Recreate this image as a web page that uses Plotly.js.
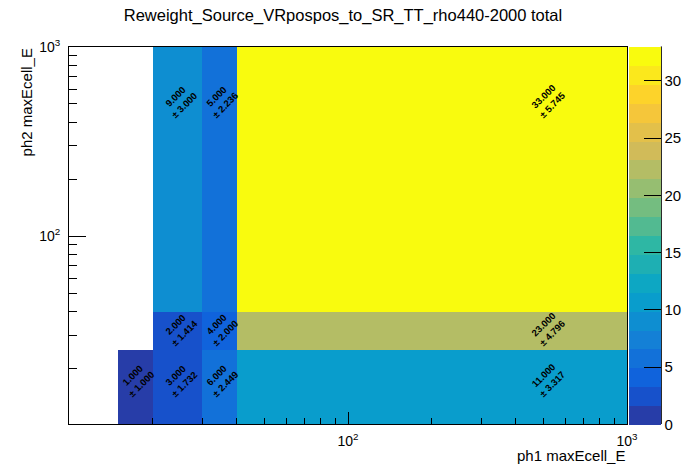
<!DOCTYPE html>
<html>
<head>
<meta charset="utf-8">
<script src="https://cdn.plot.ly/plotly-3.0.1.min.js"></script>
<style>html,body{margin:0;padding:0;background:#fff;}#plot{width:696px;height:472px;}</style>
</head>
<body>
<div id="plot"></div>
<script>
// ---- data ----
const chartTitle = "Reweight_Source_VRpospos_to_SR_TT_rho440-2000 total";
const xTitle = "ph1 maxEcell_E";
const yTitle = "ph2 maxEcell_E";
const xEdges = [10, 15, 20, 30, 40, 1000];
const yEdges = [10, 25, 40, 1000];
const counts = [
  [null, 1, 3, 6, 11],
  [null, null, 2, 4, 23],
  [null, null, 9, 5, 33]
];
const errors = [
  [null, 1.000, 1.732, 2.449, 3.317],
  [null, null, 1.414, 2.000, 4.796],
  [null, null, 3.000, 2.236, 5.745]
];
const majorTickVals = [100, 1000];
const majorTickText = ["10<sup>2</sup>", "10<sup>3</sup>"];
const minorTickVals = [20, 30, 40, 50, 60, 70, 80, 90, 200, 300, 400, 500, 600, 700, 800, 900];
const zTickVals = [0, 5, 10, 15, 20, 25, 30];
const zMin = 0, zMax = 33, nLevels = 20;

// ---- ROOT kBird palette ----
const stops = [0.0000, 0.1250, 0.2500, 0.3750, 0.5000, 0.6250, 0.7500, 0.8750, 1.0000];
const red   = [0.2082, 0.0592, 0.0780, 0.0232, 0.1802, 0.5301, 0.8186, 0.9956, 0.9764];
const green = [0.1664, 0.3599, 0.5041, 0.6419, 0.7178, 0.7492, 0.7328, 0.7862, 0.9832];
const blue  = [0.5293, 0.8684, 0.8385, 0.7914, 0.6425, 0.4662, 0.3499, 0.1968, 0.0539];
function bird(f) {
  let k = 0;
  while (k < stops.length - 2 && f > stops[k + 1]) k++;
  const t = (f - stops[k]) / (stops[k + 1] - stops[k]);
  const c = arr => Math.round(255 * (arr[k] + t * (arr[k + 1] - arr[k])));
  return `rgb(${c(red)},${c(green)},${c(blue)})`;
}
const colorscale = [];
for (let i = 0; i < nLevels; i++) {
  const idx = Math.floor((i + 0.99) * 255 / nLevels);
  const col = bird(Math.min(idx, 254) / 254);
  colorscale.push([i / nLevels, col]);
  colorscale.push([(i + 1) / nLevels, col]);
}

const FONT = "Liberation Sans, Arial, Helvetica, sans-serif";

// ---- cell text annotations (ROOT places them at linear bin centres) ----
const annotations = [];
for (let r = 0; r < counts.length; r++) {
  for (let c = 0; c < counts[r].length; c++) {
    if (counts[r][c] === null) continue;
    const cx = (xEdges[c] + xEdges[c + 1]) / 2;
    const cy = (yEdges[r] + yEdges[r + 1]) / 2;
    annotations.push({
      x: Math.log10(cx), y: Math.log10(cy), xref: "x", yref: "y",
      text: counts[r][c].toFixed(3) + "<br>± " + errors[r][c].toFixed(3),
      showarrow: false, textangle: -45,
      font: {family: FONT, size: 9.5, color: "#000", weight: "bold"},
      align: "center", xanchor: "center", yanchor: "middle"
    });
  }
}
annotations.push({
  text: xTitle, xref: "paper", yref: "paper", x: 1, y: -0.055,
  xanchor: "right", yanchor: "top", showarrow: false,
  font: {family: FONT, size: 15, color: "#000"}
});
annotations.push({
  text: yTitle, xref: "paper", yref: "paper", x: -0.077, y: 0.853,
  xanchor: "center", yanchor: "middle", showarrow: false, textangle: -90,
  font: {family: FONT, size: 15, color: "#000"}
});

const trace = {
  type: "heatmap",
  x: xEdges, y: yEdges, z: counts,
  zmin: zMin, zmax: zMax,
  colorscale: colorscale,
  hoverinfo: "skip",
  colorbar: {
    x: 1.0042, xanchor: "left", xpad: 0, ypad: 0,
    y: 0.5, yanchor: "middle", len: 1.0016, lenmode: "fraction",
    thickness: 32, thicknessmode: "pixels",
    outlinewidth: 0,
    tickmode: "array", tickvals: zTickVals,
    ticks: "inside", ticklen: 17, tickcolor: "#000", tickwidth: 1,
    tickfont: {family: FONT, size: 15, color: "#000"}
  }
};

const axisCommon = {
  type: "log",
  showgrid: false, zeroline: false,
  showline: true, mirror: true, linecolor: "#000", linewidth: 1,
  tickmode: "array", tickvals: majorTickVals, ticktext: majorTickText,
  ticks: "inside", tickcolor: "#000", tickwidth: 1
};

const layout = {
  width: 696, height: 472,
  margin: {l: 69, r: 69, t: 47, b: 48, pad: 0, autoexpand: false},
  paper_bgcolor: "#fff", plot_bgcolor: "#fff",
  title: {
    text: chartTitle, x: 343 / 696, xanchor: "center", xref: "container",
    y: 1 - 15 / 472, yanchor: "middle", yref: "container",
    font: {family: FONT, size: 16.5, color: "#000"}
  },
  xaxis: Object.assign({}, axisCommon, {
    range: [1, 3], ticklen: 12, ticklabelstandoff: 4,
    tickfont: {family: FONT, size: 14, color: "#000"},
    minor: {tickvals: minorTickVals, ticks: "inside", ticklen: 6, tickcolor: "#000", tickwidth: 1}
  }),
  yaxis: Object.assign({}, axisCommon, {
    range: [Math.log10(10.2), 3], ticklen: 17, ticklabelstandoff: 5,
    tickfont: {family: FONT, size: 14, color: "#000"},
    minor: {tickvals: minorTickVals, ticks: "inside", ticklen: 8, tickcolor: "#000", tickwidth: 1}
  }),
  annotations: annotations,
  shapes: [{
    type: "line", xref: "paper", yref: "paper",
    x0: 1.0042 + 32 / 558, x1: 1.0042 + 32 / 558, y0: 0, y1: 1.0016,
    line: {color: "#000", width: 1}
  }]
};

Plotly.newPlot("plot", [trace], layout, {staticPlot: true, displayModeBar: false});
</script>
</body>
</html>
